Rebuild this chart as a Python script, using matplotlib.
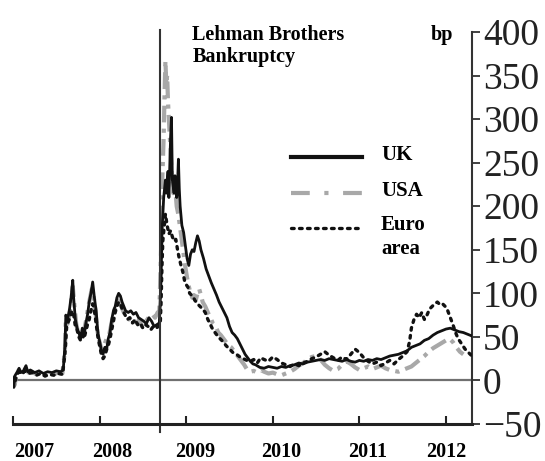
import matplotlib
matplotlib.use("Agg")
import matplotlib.pyplot as plt
from matplotlib.lines import Line2D

# ---------------- data ----------------
uk_t = [2007.00, 2007.01, 2007.02, 2007.05, 2007.07, 2007.09, 2007.12, 2007.15, 2007.17, 2007.20,
        2007.25, 2007.30, 2007.35, 2007.40, 2007.45, 2007.50, 2007.55, 2007.58, 2007.60, 2007.61,
        2007.63, 2007.65, 2007.67, 2007.69, 2007.70, 2007.72, 2007.74, 2007.76, 2007.78, 2007.80,
        2007.82, 2007.84, 2007.86, 2007.88, 2007.90, 2007.92, 2007.94, 2007.96, 2007.98, 2008.00,
        2008.02, 2008.04, 2008.06, 2008.08, 2008.10, 2008.12, 2008.14, 2008.16, 2008.18, 2008.20,
        2008.22, 2008.24, 2008.26, 2008.28, 2008.30, 2008.33, 2008.36, 2008.39, 2008.42, 2008.45,
        2008.48, 2008.51, 2008.54, 2008.57, 2008.60, 2008.63, 2008.66, 2008.69, 2008.71, 2008.72,
        2008.74, 2008.76, 2008.77, 2008.79, 2008.80, 2008.82, 2008.83, 2008.84, 2008.86, 2008.87,
        2008.89, 2008.90, 2008.91, 2008.92, 2008.93, 2008.95, 2008.97, 2008.99, 2009.01, 2009.03,
        2009.05, 2009.07, 2009.09, 2009.11, 2009.13, 2009.15, 2009.17, 2009.20, 2009.23, 2009.26,
        2009.29, 2009.32, 2009.35, 2009.38, 2009.41, 2009.44, 2009.47, 2009.50, 2009.53, 2009.56,
        2009.59, 2009.62, 2009.65, 2009.68, 2009.71, 2009.74, 2009.77, 2009.80, 2009.85, 2009.90,
        2009.95, 2010.00, 2010.05, 2010.10, 2010.15, 2010.20, 2010.25, 2010.30, 2010.35, 2010.40,
        2010.45, 2010.50, 2010.55, 2010.60, 2010.65, 2010.70, 2010.75, 2010.80, 2010.85, 2010.90,
        2010.95, 2011.00, 2011.05, 2011.10, 2011.15, 2011.20, 2011.25, 2011.30, 2011.35, 2011.40,
        2011.45, 2011.50, 2011.55, 2011.60, 2011.65, 2011.70, 2011.75, 2011.80, 2011.85, 2011.90,
        2011.95, 2012.00, 2012.05, 2012.10, 2012.15, 2012.20, 2012.25, 2012.30]
uk_v = [2, -8, 5, 10, 14, 9, 11, 17, 10, 12,
        9, 11, 8, 10, 9, 11, 10, 12, 40, 75,
        70, 80, 95, 115, 95, 70, 60, 55, 48, 60,
        52, 65, 75, 90, 100, 113, 95, 80, 55, 45,
        35, 30, 38, 35, 48, 55, 70, 80, 85, 95,
        100, 97, 90, 85, 80, 78, 80, 76, 78, 72,
        70, 68, 65, 72, 68, 62, 64, 66, 120, 170,
        210, 230, 215, 240, 210, 280, 302, 230, 215, 235,
        210, 225, 254, 220, 200, 178, 170, 155, 140, 132,
        145, 150, 148, 158, 166, 160, 150, 140, 128, 120,
        112, 105, 98, 90, 84, 78, 72, 62, 55, 52,
        48, 42, 36, 30, 26, 22, 19, 18, 15, 14,
        16, 15, 14, 16, 15, 17, 18, 20, 19, 21,
        22, 23, 24, 23, 25, 24, 23, 22, 24, 22,
        21, 23, 22, 24, 23, 25, 24, 26, 28, 29,
        30, 32, 34, 38, 40, 42, 46, 48, 52, 55,
        57, 59, 60, 58, 56, 55, 53, 51]

usa_t = [2007.00, 2007.02, 2007.04, 2007.07, 2007.10, 2007.14, 2007.18, 2007.22, 2007.27, 2007.32,
         2007.37, 2007.42, 2007.47, 2007.52, 2007.57, 2007.60, 2007.61, 2007.63, 2007.65, 2007.67,
         2007.69, 2007.71, 2007.73, 2007.75, 2007.77, 2007.79, 2007.81, 2007.83, 2007.85, 2007.87,
         2007.89, 2007.91, 2007.93, 2007.95, 2007.97, 2007.99, 2008.01, 2008.03, 2008.05, 2008.07,
         2008.09, 2008.11, 2008.13, 2008.15, 2008.17, 2008.19, 2008.21, 2008.23, 2008.25, 2008.28,
         2008.31, 2008.34, 2008.37, 2008.40, 2008.43, 2008.46, 2008.49, 2008.52, 2008.55, 2008.58,
         2008.61, 2008.64, 2008.67, 2008.69, 2008.71, 2008.72, 2008.74, 2008.75, 2008.76, 2008.77,
         2008.78, 2008.79, 2008.80, 2008.81, 2008.82, 2008.83, 2008.85, 2008.87, 2008.89, 2008.91,
         2008.93, 2008.95, 2008.97, 2008.99, 2009.01, 2009.03, 2009.05, 2009.07, 2009.09, 2009.11,
         2009.13, 2009.15, 2009.17, 2009.19, 2009.22, 2009.25, 2009.28, 2009.31, 2009.34, 2009.37,
         2009.40, 2009.43, 2009.46, 2009.49, 2009.52, 2009.55, 2009.58, 2009.61, 2009.64, 2009.67,
         2009.70, 2009.74, 2009.78, 2009.82, 2009.86, 2009.90, 2009.95, 2010.00, 2010.05, 2010.10,
         2010.15, 2010.20, 2010.25, 2010.30, 2010.35, 2010.40, 2010.45, 2010.50, 2010.55, 2010.60,
         2010.65, 2010.70, 2010.75, 2010.80, 2010.85, 2010.90, 2010.95, 2011.00, 2011.05, 2011.10,
         2011.15, 2011.20, 2011.25, 2011.30, 2011.35, 2011.40, 2011.45, 2011.50, 2011.55, 2011.60,
         2011.65, 2011.70, 2011.75, 2011.80, 2011.85, 2011.90, 2011.95, 2012.00, 2012.04, 2012.08,
         2012.12, 2012.16, 2012.20]
usa_v = [5, -5, 8, 12, 8, 13, 9, 10, 7, 9,
         6, 8, 7, 9, 8, 35, 70, 65, 75, 90,
         108, 85, 65, 55, 50, 55, 50, 62, 72, 85,
         95, 105, 98, 82, 60, 48, 40, 32, 40, 45,
         50, 52, 62, 72, 80, 88, 92, 90, 85, 78,
         72, 70, 74, 68, 66, 70, 62, 66, 70, 74,
         76, 72, 78, 80, 150, 220, 280, 330, 367, 340,
         350, 320, 300, 280, 265, 240, 215, 225, 200, 190,
         175, 160, 145, 130, 118, 108, 100, 95, 98, 92,
         100, 105, 98, 90, 85, 78, 72, 65, 62, 55,
         52, 48, 44, 40, 38, 34, 30, 26, 22, 18,
         13, 10, 11, 9, 12, 10, 8, 9, 7, 6,
         8, 10, 13, 17, 20, 24, 27, 28, 24, 18,
         14, 11, 13, 18, 22, 19, 15, 12, 14, 16,
         13, 15, 17, 14, 12, 11, 10, 12, 14, 16,
         20, 24, 28, 33, 37, 40, 43, 46, 48, 44,
         38, 33, 30]

euro_t = [2007.00, 2007.02, 2007.04, 2007.07, 2007.10, 2007.14, 2007.18, 2007.22, 2007.27, 2007.32,
          2007.37, 2007.42, 2007.47, 2007.52, 2007.57, 2007.60, 2007.62, 2007.64, 2007.66, 2007.68,
          2007.70, 2007.72, 2007.74, 2007.76, 2007.78, 2007.80, 2007.82, 2007.84, 2007.86, 2007.88,
          2007.90, 2007.92, 2007.94, 2007.96, 2007.98, 2008.00, 2008.02, 2008.04, 2008.06, 2008.08,
          2008.10, 2008.12, 2008.14, 2008.16, 2008.18, 2008.20, 2008.22, 2008.24, 2008.26, 2008.29,
          2008.32, 2008.35, 2008.38, 2008.41, 2008.44, 2008.47, 2008.50, 2008.53, 2008.56, 2008.59,
          2008.62, 2008.65, 2008.68, 2008.70, 2008.71, 2008.72, 2008.73, 2008.75, 2008.76, 2008.78,
          2008.80, 2008.82, 2008.84, 2008.86, 2008.88, 2008.90, 2008.92, 2008.94, 2008.96, 2008.98,
          2009.00, 2009.02, 2009.04, 2009.06, 2009.08, 2009.10, 2009.13, 2009.16, 2009.19, 2009.22,
          2009.25, 2009.28, 2009.31, 2009.34, 2009.37, 2009.40, 2009.43, 2009.46, 2009.50, 2009.54,
          2009.58, 2009.62, 2009.66, 2009.70, 2009.74, 2009.78, 2009.82, 2009.86, 2009.90, 2009.95,
          2010.00, 2010.05, 2010.10, 2010.15, 2010.20, 2010.25, 2010.30, 2010.35, 2010.40, 2010.45,
          2010.50, 2010.55, 2010.60, 2010.65, 2010.70, 2010.75, 2010.80, 2010.85, 2010.90, 2010.95,
          2011.00, 2011.05, 2011.10, 2011.15, 2011.20, 2011.25, 2011.30, 2011.35, 2011.40, 2011.45,
          2011.50, 2011.55, 2011.58, 2011.60, 2011.63, 2011.66, 2011.69, 2011.72, 2011.75, 2011.78,
          2011.81, 2011.84, 2011.87, 2011.90, 2011.93, 2011.96, 2011.99, 2012.02, 2012.05, 2012.08,
          2012.11, 2012.14, 2012.18, 2012.22, 2012.26, 2012.30]
euro_v = [3, -3, 6, 10, 7, 11, 8, 9, 6, 8,
          5, 7, 6, 8, 7, 30, 62, 68, 72, 80,
          76, 62, 58, 50, 46, 52, 48, 56, 64, 70,
          80, 88, 80, 65, 50, 40, 30, 25, 28, 35,
          40, 48, 58, 68, 78, 85, 90, 88, 82, 76,
          70, 72, 66, 70, 64, 66, 60, 64, 62, 58,
          62, 60, 62, 64, 90, 130, 160, 180, 191, 178,
          168, 172, 165, 160, 162, 150, 140, 132, 125, 115,
          110, 107, 100, 98, 96, 92, 88, 85, 82, 78,
          70, 64, 58, 54, 50, 47, 44, 40, 36, 32,
          30, 27, 25, 23, 22, 24, 20, 26, 24, 22,
          27, 24, 20, 18, 16, 19, 17, 20, 22, 25,
          27, 30, 33, 29, 26, 23, 27, 24, 30, 36,
          32, 26, 22, 19, 21, 17, 20, 23, 19, 24,
          28, 33, 45, 60, 70, 76, 72, 78, 70, 75,
          82, 85, 88, 90, 87, 88, 85, 80, 72, 64,
          55, 48, 42, 36, 32, 28]

year_labels = ["2007", "2008", "2009", "2010", "2011", "2012"]
year_label_pos = [2007.25, 2008.15, 2009.10, 2010.10, 2011.10, 2012.00]
year_ticks = [2007, 2008, 2009, 2010, 2011, 2012]
y_ticks = [-50, 0, 50, 100, 150, 200, 250, 300, 350, 400]
lehman_date = 2008.70

# ---------------- figure ----------------
fig = plt.figure(figsize=(5.45, 4.61), dpi=100)
ax = fig.add_axes([13 / 545, 37 / 461, 459 / 545, 392 / 461])
ax.set_xlim(2007.0, 2012.3)
ax.set_ylim(-50, 400)

axis_col = "#333333"
usa_col = "#a8a8a8"
euro_style = (0, (0.8, 1.6))

ax.plot(usa_t, usa_v, color=usa_col, lw=3.0, dashes=(4, 1.5, 1, 1.5), zorder=2)
ax.plot(euro_t, euro_v, color="#111111", lw=2.4, linestyle=euro_style,
        dash_capstyle="round", zorder=3)
ax.plot(uk_t, uk_v, color="#111111", lw=2.0, zorder=4)

ax.plot([2007.0, 2012.3], [0, 0], color="#707070", lw=1.6, zorder=1)
ax.plot([lehman_date, lehman_date], [-59, 402], color=axis_col, lw=1.5,
        clip_on=False, zorder=5)

for s in ["top", "left"]:
    ax.spines[s].set_visible(False)
ax.spines["right"].set_color(axis_col)
ax.spines["right"].set_linewidth(1.5)
ax.spines["bottom"].set_color("#222222")
ax.spines["bottom"].set_linewidth(2.2)
ax.spines["bottom"].set_zorder(10)

ax.yaxis.tick_right()
ax.set_yticks(y_ticks)
ax.set_yticklabels([str(v).replace("-", "\u2212") for v in y_ticks],
                   family="Liberation Serif", fontsize=27, color="#222222")
ax.tick_params(axis="y", direction="out", length=6, width=1.3, color=axis_col, pad=2)

ax.set_xticks(year_ticks)
ax.set_xticklabels([])
ax.tick_params(axis="x", direction="in", length=6, width=1.5, color="#222222")

for lab, pos in zip(year_labels, year_label_pos):
    ax.text(pos, -82, lab, ha="center", va="center", family="Liberation Serif",
            fontweight="bold", fontsize=14.5, clip_on=False)

ax.text(2009.07, 408, "Lehman Brothers\nBankruptcy", ha="left", va="top",
        family="Liberation Serif", fontweight="bold", fontsize=14.5, linespacing=1.1)
ax.text(2011.82, 408, "bp", ha="left", va="top",
        family="Liberation Serif", fontweight="bold", fontsize=14.5)

# legend drawn manually
lx0, lx1 = 2010.21, 2011.03
ax.plot([lx0, lx1], [257, 257], color="#111111", lw=3.0)
ax.plot([lx0, lx1], [215, 215], color=usa_col, lw=3.0, dashes=(4.5, 3.5, 1, 3.5))
ax.plot([lx0, lx1], [175, 175], color="#111111", lw=2.4, linestyle=euro_style,
        dash_capstyle="round")
lt = 2011.25
ax.text(lt, 259, "UK", ha="left", va="center", family="Liberation Serif",
        fontweight="bold", fontsize=15)
ax.text(lt, 217, "USA", ha="left", va="center", family="Liberation Serif",
        fontweight="bold", fontsize=15)
ax.text(lt, 165, "Euro\narea", ha="left", va="center", family="Liberation Serif",
        fontweight="bold", fontsize=15, linespacing=1.25)

fig.savefig("out.png", dpi=100)
